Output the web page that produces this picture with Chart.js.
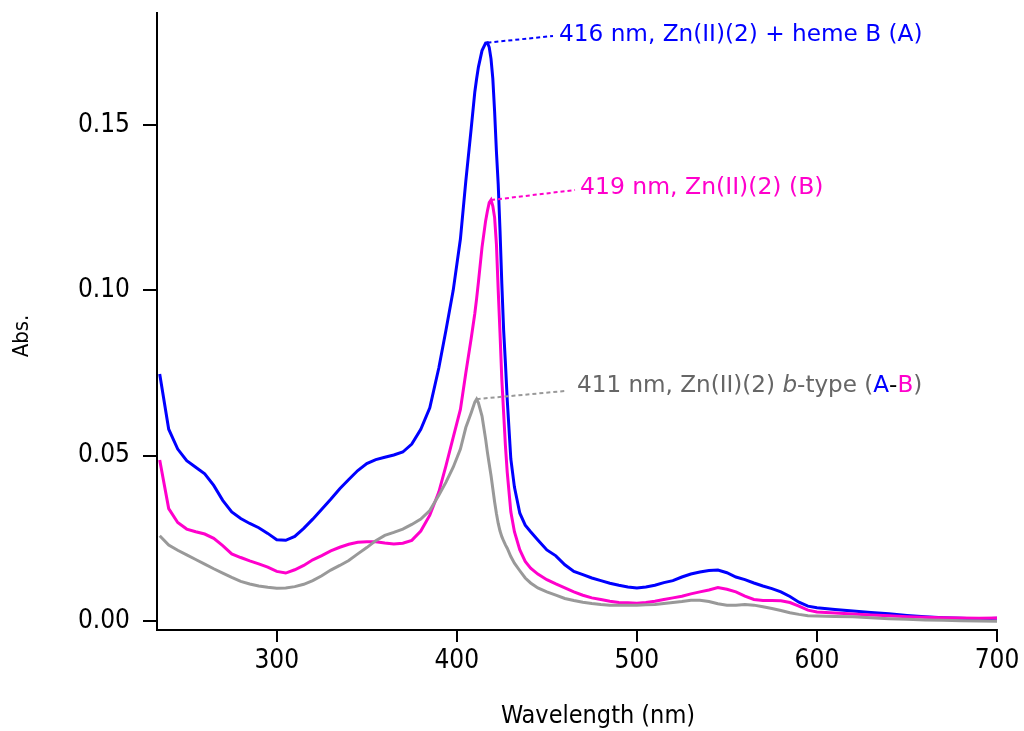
<!DOCTYPE html>
<html>
<head>
<meta charset="utf-8">
<script src="https://cdn.jsdelivr.net/npm/chart.js@4/dist/chart.umd.min.js"></script>
<style>
html, body { margin: 0; padding: 0; background: #fff; }
</style>
</head>
<body>
<canvas id="SPEC" width="1024" height="731"></canvas>
<script>
// wavelength grid (nm), shared by all three spectra
var wavelengths = [235, 240, 245, 250, 255, 260, 265, 270, 275, 280, 285, 290, 295, 300, 305, 310, 315, 320, 325, 330,
    335, 340, 345, 350, 355, 360, 365, 370, 375, 380, 385, 390, 394, 398, 402, 405, 408, 410, 411, 412,
    414, 416, 417, 418, 419, 420, 421, 422, 423, 424, 425, 426, 427, 428, 430, 432, 435, 438, 441, 445,
    450, 455, 460, 465, 470, 475, 480, 485, 490, 495, 500, 505, 510, 515, 520, 525, 530, 535, 540, 545,
    550, 555, 560, 565, 570, 575, 580, 585, 590, 595, 600, 610, 620, 630, 640, 650, 660, 670, 680, 690, 700];

// Zn(II)(2) + heme B (A)
var absA = [0.0747, 0.0580, 0.0520, 0.0485, 0.0465, 0.0445, 0.0410, 0.0365, 0.0330, 0.0310, 0.0295, 0.0282, 0.0265, 0.0246, 0.0244, 0.0256, 0.0280, 0.0308, 0.0338, 0.0368,
    0.0400, 0.0428, 0.0455, 0.0476, 0.0488, 0.0495, 0.0502, 0.0511, 0.0535, 0.0580, 0.0645, 0.0765, 0.0880, 0.1000, 0.1155, 0.1330, 0.1490, 0.1600, 0.1640, 0.1675,
    0.1725, 0.1748, 0.1749, 0.1735, 0.1700, 0.1640, 0.1540, 0.1420, 0.1320, 0.1180, 0.1020, 0.0880, 0.0780, 0.0670, 0.0490, 0.0405, 0.0326, 0.0290, 0.0270, 0.0245,
    0.0215, 0.0197, 0.0170, 0.0150, 0.0140, 0.0130, 0.0122, 0.0114, 0.0108, 0.0103, 0.0100, 0.0103, 0.0108, 0.0116, 0.0122, 0.0133, 0.0142, 0.0148, 0.0153, 0.0154,
    0.0146, 0.0133, 0.0125, 0.0115, 0.0106, 0.0098, 0.0088, 0.0074, 0.0057, 0.0045, 0.0040, 0.0035, 0.0030, 0.0026, 0.0022, 0.0017, 0.0013, 0.0010, 0.0008, 0.0006, 0.0008];

// Zn(II)(2) (B)
var absB = [0.0487, 0.0340, 0.0298, 0.0278, 0.0270, 0.0263, 0.0250, 0.0228, 0.0203, 0.0192, 0.0182, 0.0173, 0.0163, 0.0150, 0.0145, 0.0155, 0.0168, 0.0185, 0.0198, 0.0212,
    0.0223, 0.0232, 0.0238, 0.0240, 0.0240, 0.0236, 0.0233, 0.0235, 0.0244, 0.0272, 0.0320, 0.0390, 0.0470, 0.0555, 0.0640, 0.0750, 0.0855, 0.0930, 0.0975, 0.1025,
    0.1130, 0.1210, 0.1240, 0.1265, 0.1273, 0.1255, 0.1220, 0.1140, 0.1000, 0.0870, 0.0730, 0.0630, 0.0530, 0.0450, 0.0330, 0.0270, 0.0215, 0.0180, 0.0160, 0.0142,
    0.0125, 0.0112, 0.0100, 0.0088, 0.0078, 0.0070, 0.0065, 0.0060, 0.0056, 0.0055, 0.0054, 0.0056, 0.0060, 0.0065, 0.0070, 0.0075, 0.0082, 0.0088, 0.0094, 0.0101,
    0.0096, 0.0088, 0.0075, 0.0065, 0.0062, 0.0062, 0.0061, 0.0056, 0.0045, 0.0033, 0.0027, 0.0024, 0.0021, 0.0018, 0.0016, 0.0013, 0.0011, 0.0010, 0.0009, 0.0008, 0.0009];

// b-type difference spectrum (A-B)
var absAB = [0.0258, 0.0230, 0.0214, 0.0200, 0.0186, 0.0172, 0.0158, 0.0145, 0.0132, 0.0120, 0.0112, 0.0106, 0.0102, 0.0099, 0.0100, 0.0104, 0.0111, 0.0122, 0.0137, 0.0154,
    0.0168, 0.0183, 0.0203, 0.0222, 0.0243, 0.0259, 0.0268, 0.0278, 0.0292, 0.0308, 0.0334, 0.0380, 0.0420, 0.0465, 0.0520, 0.0585, 0.0630, 0.0662, 0.0671, 0.0660,
    0.0620, 0.0550, 0.0510, 0.0475, 0.0440, 0.0400, 0.0360, 0.0325, 0.0295, 0.0272, 0.0255, 0.0242, 0.0230, 0.0220, 0.0195, 0.0175, 0.0152, 0.0130, 0.0115, 0.0100,
    0.0088, 0.0078, 0.0068, 0.0062, 0.0057, 0.0053, 0.0050, 0.0048, 0.0048, 0.0048, 0.0048, 0.0049, 0.0050, 0.0053, 0.0056, 0.0059, 0.0063, 0.0063, 0.0059, 0.0052,
    0.0048, 0.0048, 0.0050, 0.0048, 0.0043, 0.0038, 0.0032, 0.0025, 0.0020, 0.0016, 0.0015, 0.0014, 0.0013, 0.0010, 0.0007, 0.0005, 0.0003, 0.0002, 0.0001, 0.0000, -0.0001];

var xTicks = [300, 400, 500, 600, 700];
var yTicks = [0.00, 0.05, 0.10, 0.15];

var col = { A: "#0000ff", B: "#ff00cc", AB: "#999999", ABtxt: "#666666" };
var axisFont = '"Liberation Sans Narrow", "DejaVu Sans Condensed", "Roboto", sans-serif';
var noteFont = '"DejaVu Sans", "Noto Sans", sans-serif';

function pts(vals) {
    var out = [];
    for (var i = 0; i < wavelengths.length; i++) {
        out.push({ x: wavelengths[i], y: vals[i] });
    }
    return out;
}

function peakOf(vals) {
    var k = 0;
    for (var i = 1; i < vals.length; i++) { if (vals[i] > vals[k]) k = i; }
    return k;
}

// leader lines + peak labels; label anchors in px, the peak end comes from the data
// w = width the label should take up
var notes = [
    { vals: absA, color: col.A, tx: 559, ty: 35, lx: 553, ly: 36, w: 363,
      parts: [["416 nm, Zn(II)(2) + heme B (A)", col.A, ""]] },
    { vals: absB, color: col.B, tx: 580, ty: 188, lx: 575, ly: 190, w: 243,
      parts: [["419 nm, Zn(II)(2) (B)", col.B, ""]] },
    { vals: absAB, color: col.AB, tx: 577, ty: 386, lx: 565, ly: 391, w: 345,
      parts: [["411 nm, Zn(II)(2) ", col.ABtxt, ""], ["b", col.ABtxt, "italic "], ["-type (", col.ABtxt, ""],
              ["A", col.A, ""], ["-", "#000", ""], ["B", col.B, ""], [")", col.ABtxt, ""]] }
];

function partsWidth(ctx, parts, size) {
    var w = 0;
    for (var p = 0; p < parts.length; p++) {
        ctx.font = parts[p][2] + size + 'px ' + noteFont;
        w += ctx.measureText(parts[p][0]).width;
    }
    return w;
}

var notePlugin = {
    id: 'peaknotes',
    afterDatasetsDraw: function (chart) {
        var ctx = chart.ctx;
        var xs = chart.scales.x, ys = chart.scales.y;
        ctx.save();
        for (var n = 0; n < notes.length; n++) {
            var v = notes[n];
            var k = peakOf(v.vals);
            var px = xs.getPixelForValue(wavelengths[k]);
            var py = ys.getPixelForValue(v.vals[k]);
            ctx.beginPath();
            ctx.setLineDash([4, 3]);
            ctx.lineWidth = 2;
            ctx.strokeStyle = v.color;
            ctx.moveTo(px, py);
            ctx.lineTo(v.lx, v.ly);
            ctx.stroke();
            ctx.setLineDash([]);
            var size = 20 * v.w / partsWidth(ctx, v.parts, 20);
            var x = v.tx;
            ctx.textBaseline = 'middle';
            ctx.textAlign = 'left';
            for (var p = 0; p < v.parts.length; p++) {
                var part = v.parts[p];
                ctx.font = part[2] + size.toFixed(1) + 'px ' + noteFont;
                ctx.fillStyle = part[1];
                ctx.fillText(part[0], x, v.ty);
                x += ctx.measureText(part[0]).width;
            }
        }
        // axis titles
        ctx.fillStyle = '#000';
        ctx.textAlign = 'center';
        ctx.textBaseline = 'middle';
        ctx.font = '25px ' + axisFont;
        ctx.fillText('Wavelength (nm)', 598, 716);
        ctx.translate(22, 336);
        ctx.rotate(-Math.PI / 2);
        ctx.font = '22px ' + axisFont;
        ctx.fillText('Abs.', 0, 0);
        ctx.restore();
    }
};

var ctx = document.getElementById('SPEC').getContext('2d');
var myChart = new Chart(ctx, {
    type: 'line',
    data: {
        datasets: [
            { label: 'A-B', data: pts(absAB), borderColor: col.AB, borderWidth: 3 },
            { label: 'B', data: pts(absB), borderColor: col.B, borderWidth: 3 },
            { label: 'A', data: pts(absA), borderColor: col.A, borderWidth: 3 }
        ]
    },
    options: {
        responsive: false,
        animation: false,
        layout: { padding: { left: 0, right: 27, top: 13, bottom: 0 } },
        elements: { point: { radius: 0 }, line: { tension: 0, fill: false } },
        plugins: { legend: { display: false }, tooltip: { enabled: false } },
        scales: {
            x: {
                type: 'linear',
                min: 233.5,
                max: 700,
                afterFit: function (s) { s.height = 101; s.paddingLeft = 0; s.paddingRight = 0; },
                afterBuildTicks: function (s) { s.ticks = xTicks.map(function (t) { return { value: t }; }); },
                border: { display: true, color: '#000', width: 2 },
                grid: { drawOnChartArea: false, drawTicks: true, tickLength: 12, color: '#000', lineWidth: 2 },
                ticks: { color: '#000', padding: 4, maxRotation: 0, font: { family: axisFont, size: 26 } }
            },
            y: {
                type: 'linear',
                min: -0.00272,
                max: 0.18387,
                afterFit: function (s) { s.width = 157; s.paddingTop = 0; s.paddingBottom = 0; },
                afterBuildTicks: function (s) { s.ticks = yTicks.map(function (t) { return { value: t }; }); },
                border: { display: true, color: '#000', width: 2 },
                grid: { drawOnChartArea: false, drawTicks: true, tickLength: 14, color: '#000', lineWidth: 2 },
                ticks: { color: '#000', padding: 13, font: { family: axisFont, size: 26 },
                    callback: function (v) { return v.toFixed(2); } }
            }
        }
    },
    plugins: [notePlugin]
});
</script>
</body>
</html>
